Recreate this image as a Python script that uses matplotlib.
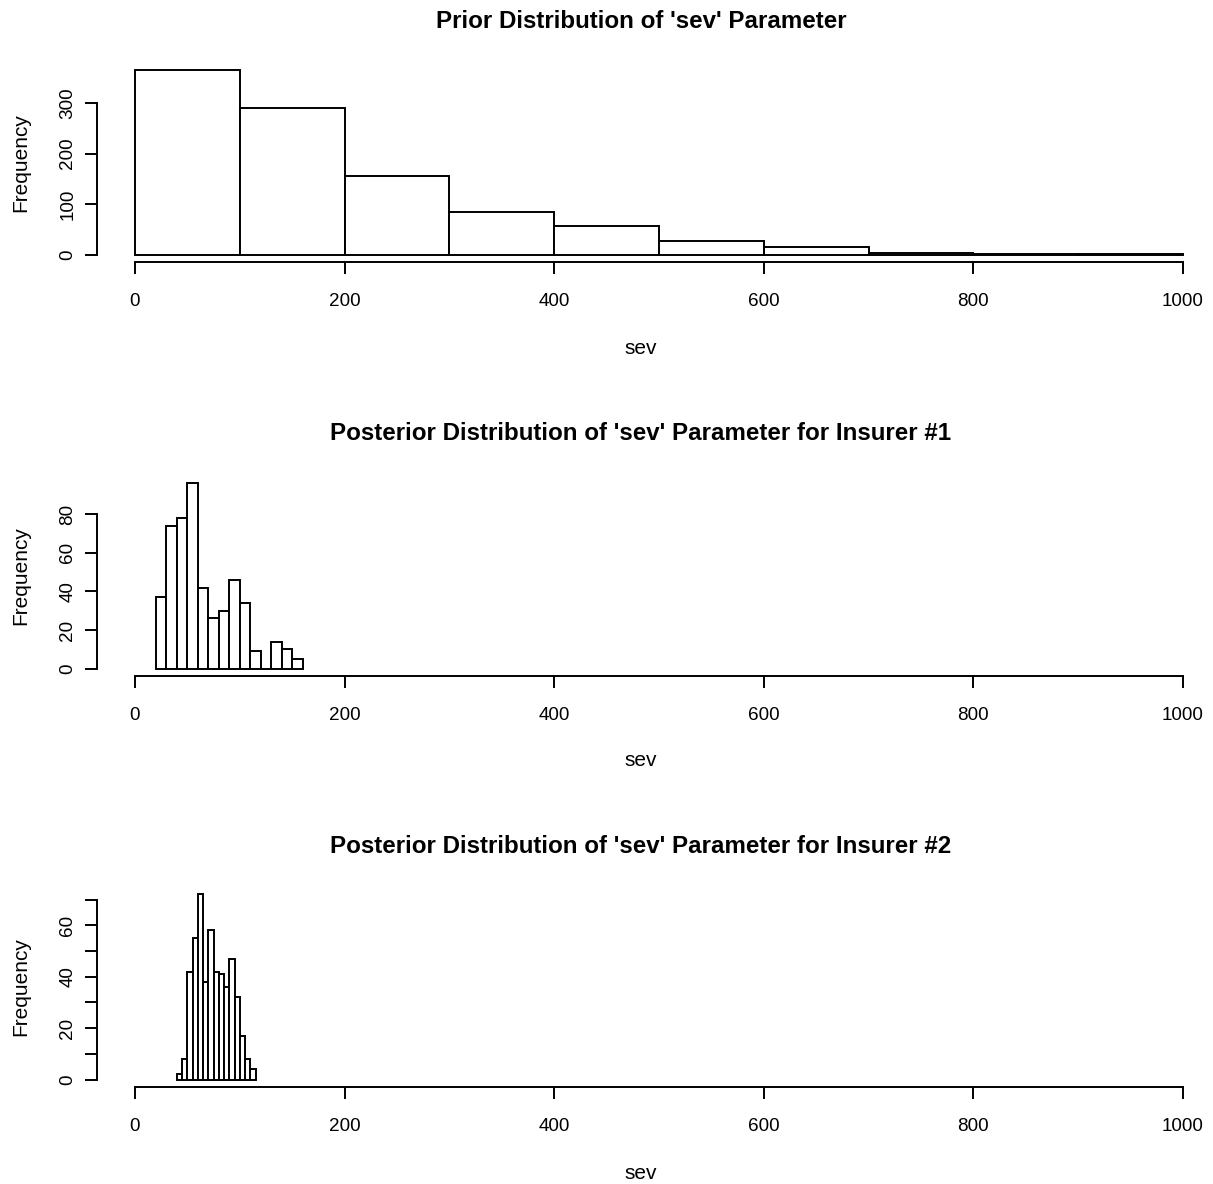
import numpy as np
import matplotlib.pyplot as plt

plt.rcParams['font.family'] = ['Liberation Sans', 'DejaVu Sans']

# histogram counts
prior_edges = np.arange(0, 1001, 100)
prior_counts = [365, 290, 155, 85, 56, 27, 15, 3, 2, 2]

ins1_edges = np.arange(20, 161, 10)
ins1_counts = [37, 74, 78, 96, 42, 26, 30, 46, 34, 9, 0, 14, 10, 5]

ins2_edges = np.arange(40, 116, 5)
ins2_counts = [2, 8, 42, 55, 72, 38, 58, 42, 41, 36, 47, 32, 17, 8, 4]

titles = ["Prior Distribution of 'sev' Parameter",
          "Posterior Distribution of 'sev' Parameter for Insurer #1",
          "Posterior Distribution of 'sev' Parameter for Insurer #2"]
yticks = [[0, 100, 200, 300], [0, 20, 40, 60, 80], list(range(0, 71, 10))]
ylabels = [['0', '100', '200', '300'], ['0', '20', '40', '60', '80'],
           ['0', '', '20', '', '40', '', '60', '']]
xticks = [0, 200, 400, 600, 800, 1000]

W, H = 1213, 1184
fig = plt.figure(figsize=(W / 100, H / 100), dpi=100)

# pixel boxes (left, top, right, bottom) of the plot regions
boxes = [(97, 63, 1185, 262), (97, 476, 1185, 676), (97, 887, 1185, 1087)]
px0, px1000 = 135, 1183
scale = (px1000 - px0) / 1000.0

data = [(prior_edges, prior_counts), (ins1_edges, ins1_counts), (ins2_edges, ins2_counts)]

for i, (edges, counts) in enumerate(data):
    l, t, r, b = boxes[i]
    ax = fig.add_axes([l / W, 1 - b / H, (r - l) / W, (b - t) / H])
    widths = np.diff(edges)
    ax.bar(edges[:-1], counts, width=widths, align='edge', color='white',
           edgecolor='black', linewidth=1.4)
    ymax = max(counts)
    ax.set_ylim(-0.04 * ymax, 1.04 * ymax)
    ax.set_xlim((l - px0) / scale, (r - px0) / scale)

    for s in ['top', 'right']:
        ax.spines[s].set_visible(False)
    ax.spines['left'].set_bounds(yticks[i][0], yticks[i][-1])
    ax.spines['bottom'].set_bounds(0, 1000)
    for s in ['left', 'bottom']:
        ax.spines[s].set_linewidth(1.4)

    ax.set_xticks(xticks)
    ax.set_yticks(yticks[i])
    ax.set_yticklabels(ylabels[i])
    ax.tick_params(length=8.5, width=1.4, labelsize=13.6, colors='black')
    ax.tick_params(axis='x', pad=13.5)
    ax.tick_params(axis='y', pad=6.5)
    for lab in ax.get_yticklabels():
        lab.set_rotation(90)
        lab.set_va('center')

    # title, x label and y label placed in pixels like the R margins
    fig.text(641 / W, 1 - (28 + 412.5 * i) / H, titles[i], fontsize=17.4,
             fontweight='bold', ha='center', va='baseline')
    fig.text(641 / W, 1 - (354 + 412.5 * i) / H, 'sev', fontsize=15,
             ha='center', va='baseline')
    fig.text(26.5 / W, 1 - ((t + b) / 2) / H, 'Frequency', fontsize=15,
             ha='center', va='baseline', rotation=90, rotation_mode='anchor')

fig.savefig('out.png', dpi=100)
